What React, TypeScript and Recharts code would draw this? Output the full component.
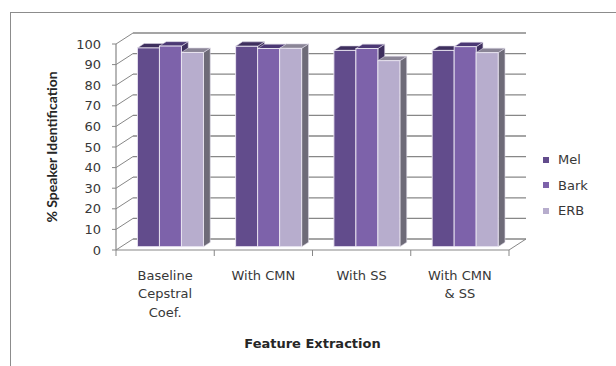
import { BarChart, Bar, XAxis, YAxis, CartesianGrid, Legend, Label } from 'recharts'

const categories = ['Baseline\nCepstral\nCoef.', 'With CMN', 'With SS', 'With CMN\n& SS']
const seriesNames = ['Mel', 'Bark', 'ERB']
const melValues = [96.5, 97.3, 95.3, 95.3]
const barkValues = [97.4, 96.2, 96.2, 97.1]
const erbValues = [94.3, 96.3, 90.3, 94.2]
const yTicks = [0, 10, 20, 30, 40, 50, 60, 70, 80, 90, 100]

const data = categories.map((name, i) => ({
  name,
  mel: melValues[i],
  bark: barkValues[i],
  erb: erbValues[i],
}))

// front plane of the 3D box
const PLOT_LEFT = 116
const PLOT_RIGHT = 509
const PLOT_TOP = 44
const PLOT_BOTTOM = 250
// offset from the front plane to the back wall
const DEPTH_X = 17
const DEPTH_Y = -11
// bars sit a little behind the front plane and have their own depth
const BAR_X = 5
const BAR_Y = -3.3
const BAR_DX = 6.8
const BAR_DY = -4.4

const GRID = '#878787'
const TEXT = '#383838'
const TICK_FONT = '"DejaVu Sans", sans-serif'

const Bar3D = (props: any) => {
  const { x, y, width, height, fill, topFill, sideFill } = props
  if (height == null || width == null) return null
  const fx = x + BAR_X
  const fy = y + BAR_Y
  const top = `${fx},${fy} ${fx + BAR_DX},${fy + BAR_DY} ${fx + width + BAR_DX},${fy + BAR_DY} ${fx + width},${fy}`
  const side = `${fx + width},${fy} ${fx + width + BAR_DX},${fy + BAR_DY} ${fx + width + BAR_DX},${fy + height + BAR_DY} ${fx + width},${fy + height}`
  return (
    <g>
      <polygon points={side} fill={sideFill} stroke="#d9d4e2" strokeWidth={0.6} />
      <polygon points={top} fill={topFill} stroke="#d9d4e2" strokeWidth={0.6} />
      <rect x={fx} y={fy} width={width} height={height} fill={fill} stroke="#ece8f3" strokeWidth={0.9} />
    </g>
  )
}

// each horizontal grid line becomes a diagonal on the side wall plus a line on the back wall
const WallLine = (props: any) => {
  const { y1 } = props
  const bx = PLOT_LEFT + DEPTH_X
  const by = y1 + DEPTH_Y
  const isFloor = Math.abs(y1 - PLOT_BOTTOM) < 1
  return (
    <g>
      <line x1={PLOT_LEFT} y1={y1} x2={bx} y2={by} stroke={GRID} strokeWidth={1} />
      <line x1={bx} y1={by} x2={PLOT_RIGHT + DEPTH_X} y2={by} stroke={GRID} strokeWidth={1.3} />
      {isFloor && (
        <line x1={PLOT_RIGHT} y1={y1} x2={PLOT_RIGHT + DEPTH_X} y2={by} stroke={GRID} strokeWidth={1} />
      )}
    </g>
  )
}

const YTick = (props: any) => {
  const { y, payload } = props
  return (
    <g>
      <line x1={PLOT_LEFT - 4} y1={y} x2={PLOT_LEFT} y2={y} stroke={GRID} />
      <text x={101} y={y} textAnchor="end" dominantBaseline="central" fontFamily={TICK_FONT} fontSize={13} fill={TEXT}>
        {payload.value}
      </text>
    </g>
  )
}

const XTick = (props: any) => {
  const { x, payload, index } = props
  const band = (PLOT_RIGHT - PLOT_LEFT) / categories.length
  const lines = String(payload.value).split('\n')
  const isLast = index === categories.length - 1
  return (
    <g>
      <line x1={x - band / 2} y1={PLOT_BOTTOM} x2={x - band / 2} y2={PLOT_BOTTOM + 6} stroke={GRID} />
      {isLast && <line x1={x + band / 2} y1={PLOT_BOTTOM} x2={x + band / 2} y2={PLOT_BOTTOM + 6} stroke={GRID} />}
      {lines.map((line, i) => (
        <text
          key={i}
          x={x}
          y={275 + i * 18.5}
          textAnchor="middle"
          dominantBaseline="central"
          fontFamily={TICK_FONT}
          fontSize={13}
          fill={TEXT}
        >
          {line}
        </text>
      ))}
    </g>
  )
}

const renderLegend = (props: any) => {
  const payload = [...(props.payload || [])].sort(
    (a: any, b: any) => seriesNames.indexOf(a.value) - seriesNames.indexOf(b.value)
  )
  return (
    <div style={{ fontFamily: TICK_FONT, fontSize: 13, color: TEXT }}>
      {payload.map((entry: any) => (
        <div key={entry.value} style={{ display: 'flex', alignItems: 'center', height: 25.5 }}>
          <span style={{ display: 'inline-block', width: 6, height: 6, background: entry.color, marginRight: 9 }} />
          {entry.value}
        </div>
      ))}
    </div>
  )
}

export default function App() {
  return (
    <div style={{ position: 'absolute', left: 0, top: 0, width: 616, height: 366, overflow: 'hidden', background: '#fff' }}>
      <div
        style={{
          position: 'absolute',
          left: 10,
          top: 12,
          width: 640,
          height: 400,
          border: '1px solid #8c8c8c',
        }}
      />
      <BarChart
        width={616}
        height={366}
        data={data}
        margin={{ top: PLOT_TOP, right: 616 - PLOT_RIGHT, left: 30, bottom: 16 }}
        barCategoryGap="16.7%"
        barGap={0}
        style={{ position: 'absolute', left: 0, top: 0 }}
      >
        <CartesianGrid vertical={false} horizontal={(p: any) => <WallLine key={p.key} {...p} />} />
        <XAxis
          dataKey="name"
          height={100}
          interval={0}
          tickLine={false}
          axisLine={{ stroke: GRID, strokeWidth: 1.2 }}
          tick={<XTick />}
        >
          <Label
            value="Feature Extraction"
            content={(p: any) => (
              <text
                x={p.viewBox.x + p.viewBox.width / 2}
                y={343}
                textAnchor="middle"
                dominantBaseline="central"
                fontFamily={TICK_FONT}
                fontWeight="bold"
                fontSize={13}
                fill="#262626"
              >
                Feature Extraction
              </text>
            )}
          />
        </XAxis>
        <YAxis
          domain={[0, 100]}
          ticks={yTicks}
          width={PLOT_LEFT - 30}
          tickLine={false}
          axisLine={{ stroke: GRID, strokeWidth: 1.2 }}
          tick={<YTick />}
          interval={0}
        >
          <Label
            value="% Speaker Identification"
            content={(p: any) => {
              const cx = 51
              const cy = p.viewBox.y + p.viewBox.height / 2
              return (
                <text
                  x={cx}
                  y={cy}
                  transform={`rotate(-90 ${cx} ${cy})`}
                  textAnchor="middle"
                  dominantBaseline="central"
                  fontFamily="Lato, sans-serif"
                  fontWeight="bold"
                  fontSize={14}
                  fill="#262626"
                >
                  % Speaker Identification
                </text>
              )
            }}
          />
        </YAxis>
        <Legend
          layout="vertical"
          align="center"
          verticalAlign="middle"
          itemSorter={null as any}
          content={renderLegend}
          wrapperStyle={{ left: 543, top: 147, width: 70 }}
        />
        <Bar
          dataKey="mel"
          name="Mel"
          fill="#624c8c"
          isAnimationActive={false}
          shape={(p: any) => <Bar3D {...p} topFill="#3e2f5e" sideFill="#3e2f5e" />}
        />
        <Bar
          dataKey="bark"
          name="Bark"
          fill="#7d62aa"
          isAnimationActive={false}
          shape={(p: any) => <Bar3D {...p} topFill="#4b3874" sideFill="#3e2f5e" />}
        />
        <Bar
          dataKey="erb"
          name="ERB"
          fill="#b7adcd"
          isAnimationActive={false}
          shape={(p: any) => <Bar3D {...p} topFill="#8a8596" sideFill="#6e6b78" />}
        />
      </BarChart>
    </div>
  )
}
